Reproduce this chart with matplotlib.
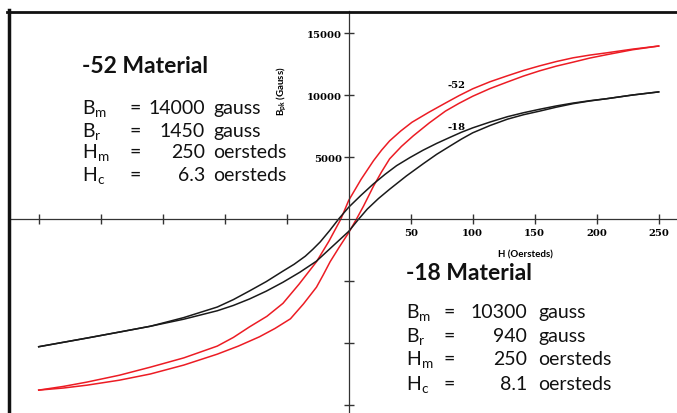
import matplotlib
matplotlib.use('Agg')
import matplotlib.pyplot as plt
from matplotlib.lines import Line2D

plt.rcParams['mathtext.fontset'] = 'custom'
plt.rcParams['mathtext.rm'] = 'Lato'
plt.rcParams['mathtext.bf'] = 'Lato:bold'
plt.rcParams['mathtext.it'] = 'Lato:italic'

# -52 material loop (H in oersteds, B in gauss)
h_52_down = [-250, -230, -211, -185, -160, -133, -106, -93, -80, -66, -53, -40, -26, -16, -6.3, 0, 10, 20, 26.5, 33, 42, 51,
             64.5, 78, 89, 100, 114, 128, 141, 154, 167.5, 181, 194.5, 208, 229, 250]
b_52_down = [-13800, -13500, -13150, -12600, -11950, -11200, -10250, -9550, -8700, -7850, -6800, -5250, -3450, -1800, 0,
             1500, 3200, 4700, 5550, 6300, 7100, 7800, 8600, 9350, 9950, 10500, 11070, 11550, 11980, 12350, 12700, 13000,
             13220, 13400, 13700, 13950]
h_52_up = [-250, -230, -211, -185, -160, -133, -106, -89, -72, -59.5, -47, -36.5, -26, -20.5, -15, -7.5, 0, 6.3, 12, 20,
           26.5, 33, 42.5, 52, 65, 78, 89, 100, 114, 128, 141, 154, 167.5, 181, 194.5, 208, 229, 250]
b_52_up = [-13800, -13630, -13400, -13000, -12500, -11780, -10900, -10250, -9500, -8830, -8050, -6850, -5500, -4500, -3450,
           -2250, -1100, 0, 1050, 2650, 3800, 4850, 5850, 6700, 7750, 8700, 9330, 9900, 10520, 11050, 11530, 11950, 12330,
           12650, 12980, 13250, 13650, 13950]

# -18 material loop
h_18_down = [-250, -211, -184, -160, -133, -106, -93, -80, -66.5, -53, -44, -35, -29, -23, -15.5, -8.1, 0, 10, 19.6, 29.3,
             38.6, 49.3, 60, 71, 82, 91, 100, 114, 128, 141, 154, 167.5, 181, 194.5, 208, 229, 250]
b_18_down = [-10300, -9600, -9100, -8650, -7950, -7100, -6500, -5800, -5050, -4200, -3650, -3000, -2450, -1850, -950, 0,
             950, 1920, 2800, 3600, 4300, 4950, 5550, 6100, 6600, 7000, 7350, 7820, 8250, 8570, 8850, 9120, 9350, 9540,
             9700, 10000, 10250]
h_18_up = [-250, -211, -184, -160, -133, -106, -93, -80, -66.5, -53, -39.5, -26, -13, 0, 8.1, 15, 24, 33, 46.5, 60, 71, 82,
           91, 100, 114, 128, 141, 154, 167.5, 181, 194.5, 208, 229, 250]
b_18_up = [-10300, -9600, -9100, -8650, -8080, -7400, -6970, -6450, -5820, -5100, -4300, -3400, -2200, -1000, 0, 800, 1650,
           2400, 3470, 4450, 5220, 5900, 6450, 6950, 7540, 8050, 8410, 8700, 9020, 9300, 9520, 9700, 10000, 10250]

x_ticks = [-250, -200, -150, -100, -50, 50, 100, 150, 200, 250]
y_ticks = [-15000, -10000, -5000, 5000, 10000, 15000]

names = ['B$_\\mathrm{m}$', 'B$_\\mathrm{r}$', 'H$_\\mathrm{m}$', 'H$_\\mathrm{c}$']
units = ['gauss', 'gauss', 'oersteds', 'oersteds']
values_52 = ['14000', '1450', '250', '6.3']
values_18 = ['10300', '940', '250', '8.1']

RED = '#ec1c24'
INK = '#1a1a1a'

W, H = 677, 414
fig = plt.figure(figsize=(W / 100, H / 100), dpi=100)
ax = fig.add_axes([0, 0, 1, 1])

# pixel geometry of the original drawing
x0, sx = 348.7, 1.24        # px of H=0, px per oersted
y0, sy = 220.0, 62 / 5000   # px of B=0, px per gauss


def fx(x):
    return x / W


def fy(y):
    return 1 - y / H


ax.set_xlim(-x0 / sx, (W - x0) / sx)
ax.set_ylim((y0 - H) / sy, y0 / sy)

ax.plot(h_52_down, b_52_down, color=RED, lw=1.1)
ax.plot(h_52_up, b_52_up, color=RED, lw=1.1)
ax.plot(h_18_down, b_18_down, color=INK, lw=1.1)
ax.plot(h_18_up, b_18_up, color=INK, lw=1.1)

for side in ['top', 'right']:
    ax.spines[side].set_visible(False)
ax.spines['left'].set_position(('data', 0))
ax.spines['bottom'].set_position(('data', 0))
ax.spines['left'].set_bounds((y0 - H) / sy, (y0 - 12) / sy)
ax.spines['bottom'].set_bounds((8.5 - x0) / sx, (W - x0) / sx)
for side in ['left', 'bottom']:
    ax.spines[side].set_linewidth(0.9)
    ax.spines[side].set_color('#333333')

tick_font = dict(fontfamily='DejaVu Serif', fontweight='bold', fontsize=7.2)
ax.set_xticks(x_ticks, labels=[str(t) if t > 0 else '' for t in x_ticks], **tick_font)
ax.set_yticks(y_ticks, labels=[str(t) if t > 0 else '' for t in y_ticks], **tick_font)
ax.tick_params(direction='inout', length=6.5, width=1, color='#333333')
ax.tick_params(axis='x', pad=3)
ax.tick_params(axis='y', pad=1.5)

# frame lines at left and top
fig.add_artist(Line2D([fx(8.5), fx(8.5)], [fy(11), 0], transform=fig.transFigure, lw=2.5, color='#111111'))
fig.add_artist(Line2D([fx(7), 1], [fy(12.5), fy(12.5)], transform=fig.transFigure, lw=2, color='#111111'))

# axis titles
fig.text(fx(525), fy(255), 'H (Oersteds)', ha='center', va='center', fontfamily='Lato', fontweight='bold', fontsize=7)
fig.text(fx(282), fy(91), 'B$_{\\mathbf{pk}}$ (Gauss)', ha='center', va='center', rotation=90,
         fontfamily='Lato', fontweight='bold', fontsize=7)

# curve tags
fig.text(fx(457), fy(85), '-52', ha='center', va='center', **tick_font)
fig.text(fx(457), fy(128), '-18', ha='center', va='center', **tick_font)


def material_block(title, values, left, title_base, bases, eq_x, num_x, unit_x):
    fig.text(fx(left), fy(title_base), title, ha='left', va='baseline',
             fontfamily='Lato', fontweight='bold', fontsize=16.5, color='#111111')
    for name, val, unit, b in zip(names, values, units, bases):
        kw = dict(va='baseline', fontfamily='Lato', fontsize=14, color='#111111')
        fig.text(fx(left), fy(b), name, ha='left', **kw)
        fig.text(fx(eq_x), fy(b), '=', ha='center', **kw)
        fig.text(fx(num_x), fy(b), val, ha='right', **kw)
        fig.text(fx(unit_x), fy(b), unit, ha='left', **kw)


material_block('-52 Material', values_52, 82, 73, [114, 137, 158, 181], 135, 205, 213)
material_block('-18 Material', values_18, 406, 280, [318, 342, 365, 390], 449, 527, 538)

fig.savefig('out.png', dpi=100)
